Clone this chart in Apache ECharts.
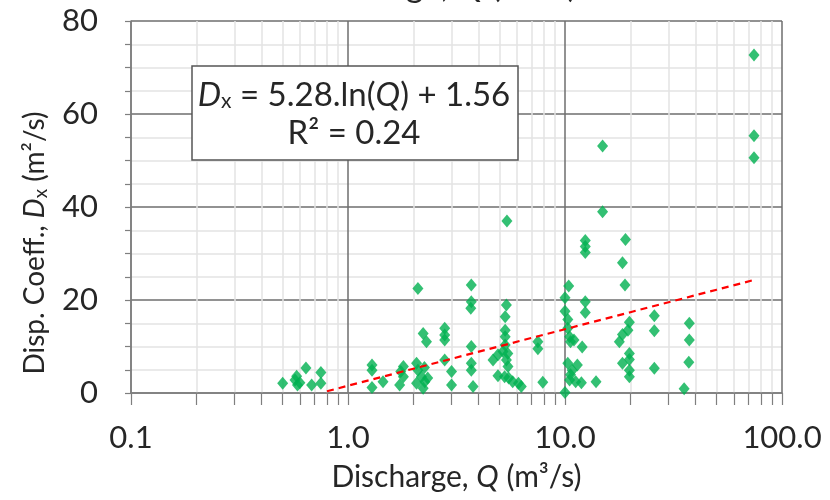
<!DOCTYPE html>
<html>
<head>
<meta charset="utf-8">
<script src="https://cdn.jsdelivr.net/npm/echarts@6/dist/echarts.min.js"></script>
<style>
  html, body { margin: 0; padding: 0; background: #fff; }
  #chart { width: 830px; height: 500px; }
</style>
</head>
<body>
<div id="chart"></div>
<script>
// Measured discharge Q (m³/s) and longitudinal dispersion coefficient Dx (m²/s)
const dischargeQ = [
  0.50, 0.57, 0.58, 0.585, 0.64, 0.68, 0.75, 0.75, 0.60,
  1.29, 1.29, 1.29, 1.45,
  1.80, 1.80, 1.73, 1.75,
  2.10, 2.07, 2.10, 2.18, 2.26, 2.22, 2.33, 2.07, 2.22, 2.30, 2.25,
  2.79, 2.79, 2.79, 2.79,
  3.0, 3.0,
  3.70, 3.70, 3.68, 3.70, 3.70, 3.70, 3.77,
  5.37, 5.30, 5.30, 5.30, 5.30, 4.66, 4.91, 5.18, 5.45, 5.37, 5.46, 4.91, 5.27, 5.50, 5.74, 5.40, 6.29, 6.10,
  7.5, 7.5, 7.9,
  10.4, 10.0, 10.0, 10.3, 10.3, 10.5, 10.6, 11.0, 12.0, 10.3, 11.4, 10.8, 10.6, 10.5, 11.2, 11.9, 10.0,
  12.4, 12.4, 12.4, 12.4, 12.4,
  13.9, 14.9, 14.9,
  19.0, 18.4, 18.9, 19.8, 19.5, 18.4, 17.8, 19.8, 19.8, 18.4, 19.8, 19.8,
  25.8, 25.8, 25.8,
  37.4, 37.4, 37.2, 35.4,
  74.3, 74.3, 74.3
];
const dispersionDx = [
  2.1, 2.8, 3.6, 1.7, 5.4, 1.7, 4.4, 2.1, 2.2,
  6.0, 4.9, 1.2, 2.4,
  5.7, 3.5, 1.7, 4.6,
  22.5, 6.4, 4.9, 3.5, 2.4, 1.0, 3.2, 2.1, 12.8, 11.0, 5.5,
  13.9, 12.5, 11.4, 7.1,
  4.6, 1.7,
  23.2, 19.6, 18.2, 10.0, 6.4, 4.9, 1.4,
  18.9, 16.4, 13.5, 12.1, 10.3, 7.1, 8.2, 8.9, 8.5, 7.1, 5.7, 3.7, 3.5, 3.2, 2.4, 37.0, 1.4, 2.1,
  11.0, 9.5, 2.3,
  23.0, 20.5, 17.6, 15.8, 13.9, 12.1, 11.0, 11.4, 9.9, 6.4, 6.0, 4.9, 3.9, 2.8, 2.4, 2.2, 0.1,
  32.8, 31.5, 30.2, 19.6, 17.3,
  2.4, 53.1, 39.0,
  33.0, 28.0, 23.2, 15.2, 13.5, 12.6, 11.0, 8.5, 7.2, 6.4, 4.9, 3.5,
  16.6, 13.4, 5.3,
  15.0, 11.4, 6.6, 0.9,
  72.7, 55.3, 50.6
];

// Logarithmic fit Dx = a·ln(Q) + b
const fitSlope = 5.28;
const fitIntercept = 1.56;
const fitR2 = 0.24;
const fitQ = [0.8, 1, 2, 5, 10, 20, 50, 75];

// Axis tick labels
const xTickValues = [0.1, 1, 10, 100];
const xTickLabels = ['0.1', '1.0', '10.0', '100.0'];
const yTickLabels = ['0', '20', '40', '60', '80'];

const FONT = 'Lato, "Open Sans", sans-serif';
const TEXT = '#262626';

const points = dischargeQ.map((q, i) => [q, dispersionDx[i]]);
const fitLine = fitQ.map(q => [q, fitSlope * Math.log(q) + fitIntercept]);

const chart = echarts.init(document.getElementById('chart'), null, { renderer: 'canvas' });

chart.setOption({
  animation: false,
  backgroundColor: '#ffffff',
  grid: { left: 131, right: 48, top: 21, bottom: 107, containLabel: false },
  xAxis: {
    type: 'log',
    logBase: 10,
    min: 0.1,
    max: 100,
    name: 'Discharge, {i|Q} (m³/s)',
    nameLocation: 'middle',
    nameGap: 69,
    nameTextStyle: {
      fontFamily: FONT, fontSize: 30, color: TEXT,
      rich: { i: { fontFamily: FONT, fontSize: 30, fontStyle: 'italic', color: TEXT } }
    },
    axisLine: { show: true, lineStyle: { color: '#7f7f7f', width: 1.5 } },
    axisTick: { show: true, length: 12, lineStyle: { color: '#7f7f7f', width: 1.2 } },
    minorTick: { show: true, splitNumber: 9, length: 12, lineStyle: { color: '#7f7f7f', width: 1.2 } },
    axisLabel: {
      margin: 29,
      fontFamily: FONT, fontSize: 31, color: TEXT,
      formatter: v => {
        const k = xTickValues.findIndex(t => Math.abs(Math.log10(t) - Math.log10(v)) < 1e-6);
        return k >= 0 ? xTickLabels[k] : '';
      }
    },
    splitLine: { show: true, lineStyle: { color: '#6e6e6e', width: 1.5 } },
    minorSplitLine: { show: true, lineStyle: { color: '#e3e3e3', width: 1.5 } }
  },
  yAxis: {
    type: 'value',
    min: 0,
    max: 80,
    interval: 20,
    axisLine: { show: true, lineStyle: { color: '#7f7f7f', width: 1.5 } },
    axisTick: { show: true, length: 6, lineStyle: { color: '#7f7f7f', width: 1.2 } },
    minorTick: { show: true, splitNumber: 4, length: 6, lineStyle: { color: '#7f7f7f', width: 1.2 } },
    axisLabel: {
      margin: 33,
      fontFamily: FONT, fontSize: 31, color: TEXT,
      formatter: (v) => yTickLabels[Math.round(v / 20)]
    },
    splitLine: { show: true, lineStyle: { color: '#6e6e6e', width: 1.5 } },
    minorSplitLine: { show: true, lineStyle: { color: '#e3e3e3', width: 1.5 } }
  },
  series: [
    {
      name: 'Observations',
      type: 'scatter',
      data: points,
      symbol: 'diamond',
      symbolSize: [11, 13],
      itemStyle: { color: '#00B050' },
      z: 3
    },
    {
      name: 'Log fit',
      type: 'line',
      data: fitLine,
      showSymbol: false,
      smooth: false,
      lineStyle: { color: '#FF0000', width: 2.2, type: [7, 5] },
      z: 4
    }
  ],
  graphic: [
    {
      type: 'text',
      x: 435,
      y: -14,
      z: 100,
      style: {
        text: 'Discharge, {i|Q} (m³/s)',
        align: 'center',
        verticalAlign: 'middle',
        fontFamily: FONT, fontSize: 34, fill: TEXT,
        rich: { i: { fontFamily: FONT, fontSize: 34, fontStyle: 'italic', fill: TEXT } }
      }
    },
    {
      type: 'text',
      x: 35,
      y: 243,
      rotation: Math.PI / 2,
      z: 100,
      style: {
        text: '{n|Disp. Coeff., }{i|D}{s|x}{n| (m²/s)}',
        align: 'center',
        verticalAlign: 'middle',
        rich: {
          n: { fontFamily: FONT, fontSize: 28, fill: TEXT },
          i: { fontFamily: FONT, fontSize: 28, fontStyle: 'italic', fill: TEXT },
          s: { fontFamily: FONT, fontSize: 19, fill: TEXT, padding: [11, 0, 0, 0] }
        }
      }
    },
    {
      type: 'rect',
      z: 100,
      shape: { x: 192, y: 66, width: 326, height: 94 },
      style: { fill: '#ffffff', stroke: '#555555', lineWidth: 1.5 }
    },
    {
      type: 'text',
      x: 354,
      y: 95,
      z: 101,
      style: {
        text: '{i|D}{s|x}{n| = ' + fitSlope.toFixed(2) + '.ln(}{i|Q}{n|) + ' + fitIntercept.toFixed(2) + '}',
        align: 'center',
        verticalAlign: 'middle',
        rich: {
          n: { fontFamily: FONT, fontSize: 33, fill: TEXT },
          i: { fontFamily: FONT, fontSize: 33, fontStyle: 'italic', fill: TEXT },
          s: { fontFamily: FONT, fontSize: 21, fill: TEXT, padding: [13, 0, 0, 0] }
        }
      }
    },
    {
      type: 'text',
      x: 354,
      y: 133,
      z: 101,
      style: {
        text: 'R² = ' + fitR2.toFixed(2),
        align: 'center',
        verticalAlign: 'middle',
        fontFamily: FONT, fontSize: 33, fill: TEXT
      }
    }
  ]
});
</script>
</body>
</html>
